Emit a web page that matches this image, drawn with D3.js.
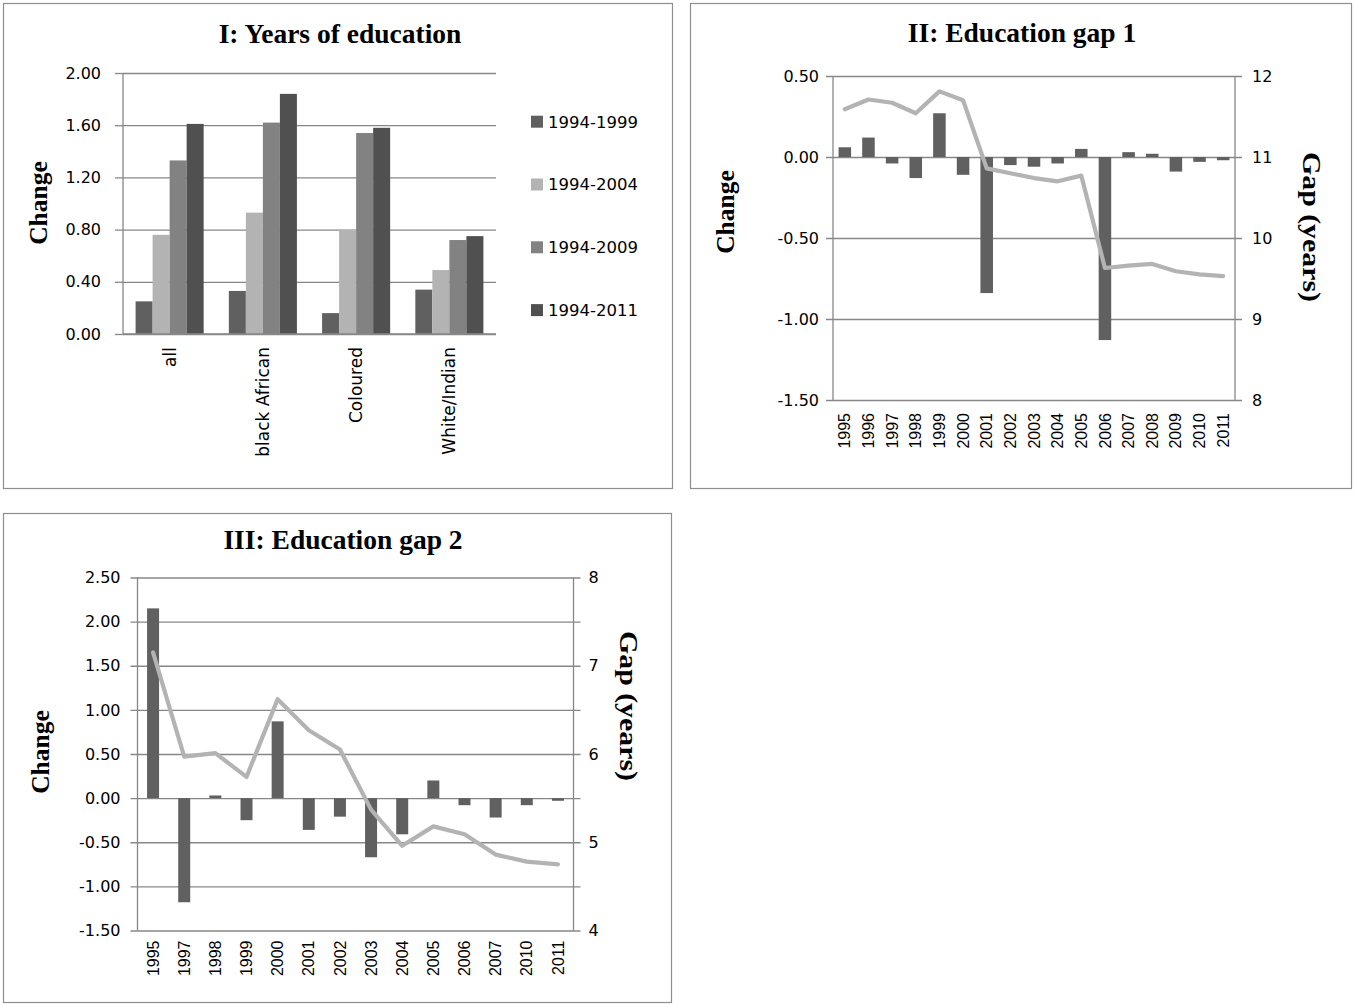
<!DOCTYPE html>
<html>
<head>
<meta charset="utf-8">
<script src="https://cdn.jsdelivr.net/npm/d3@7"></script>
<style>
  html, body { margin: 0; padding: 0; background: #fff; }
  svg { display: block; }
  .tick line { stroke: #878787; }
</style>
</head>
<body>
<script>
// ---- Panel I: change in years of education by group ----
const groups = ["all", "black African", "Coloured", "White/Indian"];
const periods = ["1994-1999", "1994-2004", "1994-2009", "1994-2011"];
const change1999 = [0.25, 0.33, 0.16, 0.34];
const change2004 = [0.76, 0.93, 0.80, 0.49];
const change2009 = [1.33, 1.62, 1.54, 0.72];
const change2011 = [1.61, 1.84, 1.58, 0.75];
const periodColors = ["#606060", "#b3b3b3", "#828282", "#505050"];
const ticksI = [0, 0.4, 0.8, 1.2, 1.6, 2.0];

// ---- Panel II: education gap 1 ----
const yearsII = ["1995","1996","1997","1998","1999","2000","2001","2002","2003",
                 "2004","2005","2006","2007","2008","2009","2010","2011"];
const changeII = [0.06, 0.12, -0.04, -0.13, 0.27, -0.11, -0.84, -0.05, -0.06,
                  -0.04, 0.05, -1.13, 0.03, 0.02, -0.09, -0.03, -0.02];
const gapII = [11.59, 11.71, 11.67, 11.54, 11.81, 11.70, 10.86, 10.80, 10.74,
               10.70, 10.77, 9.63, 9.66, 9.68, 9.59, 9.55, 9.53];
const ticksIILeft = [-1.5, -1.0, -0.5, 0, 0.5];
const ticksIIRight = [8, 9, 10, 11, 12];

// ---- Panel III: education gap 2 ----
const yearsIII = ["1995","1997","1998","1999","2000","2001","2002","2003",
                  "2004","2005","2006","2007","2010","2011"];
const changeIII = [2.15, -1.18, 0.03, -0.25, 0.87, -0.36, -0.21, -0.67,
                   -0.41, 0.20, -0.08, -0.22, -0.08, -0.03];
const gapIII = [7.15, 5.97, 6.01, 5.74, 6.62, 6.27, 6.05, 5.37,
                4.96, 5.18, 5.09, 4.86, 4.78, 4.75];
const ticksIIILeft = [-1.5, -1.0, -0.5, 0, 0.5, 1.0, 1.5, 2.0, 2.5];
const ticksIIIRight = [4, 5, 6, 7, 8];

const GRID = "#878787";
const BAR = "#606060";
const LINE = "#b3b3b3";
const SERIF = "'Liberation Serif', 'Times New Roman', serif";
const SANS = "'DejaVu Sans', 'Liberation Sans', sans-serif";
const SANS2 = "'Liberation Sans', Arial, sans-serif";
const fmt2 = d => d.toFixed(2);

const svg = d3.select("body").append("svg")
  .attr("width", 1354).attr("height", 1005);
svg.append("rect").attr("width", 1354).attr("height", 1005).attr("fill", "#fff");

function frame(x, y, w, h) {
  svg.append("rect").attr("x", x + 0.5).attr("y", y + 0.5)
    .attr("width", w).attr("height", h)
    .attr("fill", "#fff").attr("stroke", "#8e8e8e").attr("stroke-width", 1.2);
}

function title(text, cx, baseline) {
  svg.append("text").attr("x", cx).attr("y", baseline)
    .attr("text-anchor", "middle")
    .style("font-family", SERIF).style("font-weight", "bold").style("font-size", "27.5px")
    .text(text);
}

function vTitle(text, cx, cy, rot, len) {
  const t = svg.append("text")
    .attr("transform", `translate(${cx},${cy}) rotate(${rot})`)
    .attr("text-anchor", "middle").attr("dy", "0.35em")
    .style("font-family", SERIF).style("font-weight", "bold").style("font-size", "25.5px")
    .text(text);
  if (len) t.attr("textLength", len).attr("lengthAdjust", "spacingAndGlyphs");
}

function styleAxis(g, font, size) {
  g.select(".domain").remove();
  g.selectAll(".tick line").attr("stroke", GRID).attr("stroke-width", 1.3);
  g.selectAll(".tick text").attr("fill", "#000")
    .style("font-family", font).style("font-size", size);
}

// ================= Panel I =================
(function () {
  frame(3, 3, 669, 485);
  title("I: Years of education", 340, 43);
  const L = 123, R = 496, T = 73, B = 334;
  const y = d3.scaleLinear().domain([0, 2]).range([B, T]);
  const x = d3.scaleBand().domain(groups).range([L, R]).paddingInner(0.27).paddingOuter(0.135);
  const xs = d3.scaleBand().domain(periods).range([0, x.bandwidth()]);
  const series = [change1999, change2004, change2009, change2011];

  // gridlines
  svg.append("g").attr("transform", `translate(${L},0)`)
    .call(d3.axisLeft(y).tickValues(ticksI).tickSize(-(R - L)).tickFormat(""))
    .call(g => styleAxis(g, SANS, "16px"));
  // left axis with labels
  const ya = svg.append("g").attr("transform", `translate(${L},0)`)
    .call(d3.axisLeft(y).tickValues(ticksI).tickSize(8).tickPadding(14).tickFormat(fmt2))
    .call(g => styleAxis(g, SANS, "16px"));
  svg.append("line").attr("x1", L).attr("x2", L).attr("y1", T).attr("y2", B)
    .attr("stroke", GRID).attr("stroke-width", 1.3);

  // bars
  periods.forEach((p, i) => {
    svg.append("g").selectAll("rect").data(groups).join("rect")
      .attr("x", g => x(g) + xs(p))
      .attr("width", xs.bandwidth())
      .attr("y", (g, j) => y(series[i][j]))
      .attr("height", (g, j) => y(0) - y(series[i][j]))
      .attr("fill", periodColors[i]);
  });
  svg.append("line").attr("x1", L).attr("x2", R).attr("y1", y(0)).attr("y2", y(0))
    .attr("stroke", GRID).attr("stroke-width", 1.3);

  // category labels
  svg.append("g").selectAll("text").data(groups).join("text")
    .attr("transform", g => `translate(${x(g) + x.bandwidth() / 2},${B + 13}) rotate(-90)`)
    .attr("text-anchor", "end").attr("dy", "0.35em")
    .style("font-family", SANS).style("font-size", "17px")
    .text(g => g);

  vTitle("Change", 38, 203, -90);

  // legend
  const lg = svg.append("g").selectAll("g").data(periods).join("g")
    .attr("transform", (p, i) => `translate(531,${121.7 + i * 62.8})`);
  lg.append("rect").attr("x", 0).attr("y", -6).attr("width", 12).attr("height", 12)
    .attr("fill", (p, i) => periodColors[i]);
  lg.append("text").attr("x", 17).attr("dy", "0.36em")
    .style("font-family", SANS).style("font-size", "16.5px")
    .text(p => p);
})();

// ============ Combined bar + line panels ============
function comboPanel(cfg) {
  frame(cfg.box[0], cfg.box[1], cfg.box[2], cfg.box[3]);
  title(cfg.title, cfg.titleX, cfg.titleY);
  const { L, R, T, B } = cfg;
  const y = d3.scaleLinear().domain(cfg.leftDomain).range([B, T]);
  const yr = d3.scaleLinear().domain(cfg.rightDomain).range([B, T]);
  const x = d3.scaleBand().domain(cfg.years).range([L, R])
    .paddingInner(cfg.pad).paddingOuter(cfg.pad / 2);

  // gridlines (extended to tick marks on both sides)
  svg.append("g").attr("transform", `translate(${R + 7},0)`)
    .call(d3.axisLeft(y).tickValues(cfg.leftTicks).tickSize(R - L + 14).tickFormat(""))
    .call(g => styleAxis(g, SANS, "16px"));
  // left labels
  svg.append("g").attr("transform", `translate(${L},0)`)
    .call(d3.axisLeft(y).tickValues(cfg.leftTicks).tickSize(0).tickPadding(cfg.lpad).tickFormat(fmt2))
    .call(g => styleAxis(g, SANS, "16px"));
  // right labels
  svg.append("g").attr("transform", `translate(${R},0)`)
    .call(d3.axisRight(yr).tickValues(cfg.rightTicks).tickSize(0).tickPadding(cfg.rpad).tickFormat(d3.format("d")))
    .call(g => styleAxis(g, SANS, "16px"));
  // vertical axis lines
  [L, R].forEach(xx => svg.append("line").attr("x1", xx).attr("x2", xx)
    .attr("y1", T).attr("y2", B).attr("stroke", GRID).attr("stroke-width", 1.3));

  // bars
  svg.append("g").selectAll("rect").data(cfg.years).join("rect")
    .attr("x", d => x(d)).attr("width", x.bandwidth())
    .attr("y", (d, i) => y(Math.max(0, cfg.change[i])))
    .attr("height", (d, i) => Math.abs(y(cfg.change[i]) - y(0)))
    .attr("fill", BAR);

  // line series on secondary axis
  const line = d3.line()
    .x((d, i) => x(cfg.years[i]) + x.bandwidth() / 2)
    .y(d => yr(d));
  svg.append("path").datum(cfg.gap).attr("d", line)
    .attr("fill", "none").attr("stroke", LINE).attr("stroke-width", 4.2)
    .attr("stroke-linejoin", "round").attr("stroke-linecap", "round");

  // year labels
  svg.append("g").selectAll("text").data(cfg.years).join("text")
    .attr("transform", d => `translate(${x(d) + x.bandwidth() / 2},${B + cfg.yearOff}) rotate(-90)`)
    .attr("text-anchor", "end").attr("dy", "0.35em")
    .style("font-family", SANS2).style("font-size", "16px")
    .text(d => d);

  vTitle("Change", cfg.changeX, cfg.changeY, -90);
  vTitle("Gap (years)", cfg.gapX, cfg.gapY, 90, 150);
}

comboPanel({
  box: [690, 3, 661, 485], title: "II: Education gap 1", titleX: 1022, titleY: 42,
  L: 833, R: 1235, T: 76, B: 400,
  leftDomain: [-1.5, 0.5], rightDomain: [8, 12],
  leftTicks: ticksIILeft, rightTicks: ticksIIRight,
  years: yearsII, change: changeII, gap: gapII, pad: 0.47,
  lpad: 14, rpad: 17, yearOff: 13,
  changeX: 725, changeY: 212, gapX: 1312, gapY: 227
});

comboPanel({
  box: [3, 513, 668, 489], title: "III: Education gap 2", titleX: 343, titleY: 549,
  L: 137.5, R: 573.5, T: 577.5, B: 930.5,
  leftDomain: [-1.5, 2.5], rightDomain: [4, 8],
  leftTicks: ticksIIILeft, rightTicks: ticksIIIRight,
  years: yearsIII, change: changeIII, gap: gapIII, pad: 0.615,
  lpad: 17, rpad: 15, yearOff: 10,
  changeX: 40, changeY: 752, gapX: 629, gapY: 706
});
</script>
</body>
</html>
